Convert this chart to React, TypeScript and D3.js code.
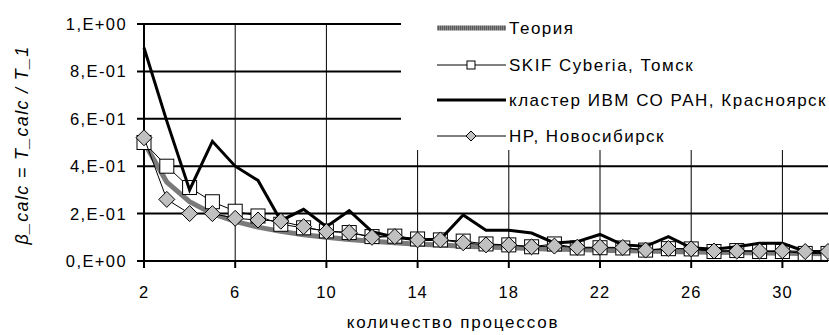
import React from 'react';
import * as d3 from 'd3';

// number of processes 2..32
const procs = [2, 3, 4, 5, 6, 7, 8, 9, 10, 11, 12, 13, 14, 15, 16, 17, 18, 19, 20, 21, 22, 23, 24, 25, 26, 27, 28, 29, 30, 31, 32];

const theory = [0.5, 0.333, 0.25, 0.2, 0.167, 0.143, 0.125, 0.111, 0.1, 0.091, 0.083, 0.077, 0.071, 0.067, 0.0625, 0.059,
  0.056, 0.053, 0.05, 0.048, 0.045, 0.043, 0.042, 0.04, 0.038, 0.037, 0.036, 0.034, 0.033, 0.032, 0.031];

const skif = [0.5, 0.4, 0.31, 0.25, 0.21, 0.19, 0.155, 0.14, 0.127, 0.12, 0.103, 0.105, 0.093, 0.089, 0.084, 0.072,
  0.068, 0.06, 0.072, 0.055, 0.056, 0.055, 0.046, 0.052, 0.051, 0.04, 0.044, 0.04, 0.04, 0.032, 0.032];

const cluster = [0.9, 0.59, 0.3, 0.505, 0.4, 0.34, 0.17, 0.218, 0.145, 0.212, 0.124, 0.1, 0.09, 0.092, 0.194, 0.13,
  0.13, 0.118, 0.076, 0.082, 0.112, 0.068, 0.062, 0.103, 0.056, 0.05, 0.06, 0.075, 0.075, 0.04, 0.04];

const hp = [0.52, 0.26, 0.2, 0.2, 0.18, 0.173, 0.168, 0.145, 0.124, 0.12, 0.1, 0.103, 0.089, 0.089, 0.077, 0.068,
  0.068, 0.06, 0.063, 0.058, 0.058, 0.057, 0.046, 0.053, 0.051, 0.042, 0.042, 0.042, 0.043, 0.04, 0.04];

const xTicks = [2, 6, 10, 14, 18, 22, 26, 30];
const yTicks = [0, 0.2, 0.4, 0.6, 0.8, 1.0];
const yTickLabels = ['0,E+00', '2,E-01', '4,E-01', '6,E-01', '8,E-01', '1,E+00'];

const legendNames = ['Теория', 'SKIF Cyberia, Томск', 'кластер ИВМ СО РАН, Красноярск', 'HP, Новосибирск'];

const font = 'Arial, "Liberation Sans", sans-serif';

const App = () => {
  const left = 144, right = 828, top = 24, bottom = 261;
  const x = d3.scaleLinear().domain([2, 32]).range([left, right]);
  const y = d3.scaleLinear().domain([0, 1]).range([bottom, top]);

  const line = d3.line<number>()
    .x((d, i) => x(procs[i]))
    .y(d => y(d));

  const sq = 7;
  const dm = 8;
  const diamond = (cx: number, cy: number, r: number) =>
    `M${cx},${cy - r}L${cx + r},${cy}L${cx},${cy + r}L${cx - r},${cy}Z`;

  const legY = [28, 65, 100, 136];
  const lx0 = 437, lx1 = 506, lmid = 471;

  return (
    <svg width={829} height={335} style={{ position: 'absolute', left: 0, top: 0, background: '#fff' }}
      fontFamily={font}>
      <defs>
        <pattern id="hatch" width={2} height={6} patternUnits="userSpaceOnUse">
          <rect width={2} height={6} fill="#8a8a8a" />
          <rect width={1} height={6} fill="#5a5a5a" />
        </pattern>
      </defs>
      {/* horizontal gridlines */}
      {yTicks.map(t => (
        <line key={'h' + t} x1={left - 7} x2={right} y1={y(t)} y2={y(t)} stroke="#000" strokeWidth={2} />
      ))}
      {/* vertical gridlines */}
      {xTicks.filter(t => t !== 2).map(t => (
        <line key={'v' + t} x1={x(t)} x2={x(t)} y1={top} y2={bottom} stroke="#000" strokeWidth={1} />
      ))}
      {/* axes */}
      <line x1={left} x2={left} y1={top} y2={bottom + 7} stroke="#000" strokeWidth={2} />
      {xTicks.map(t => (
        <line key={'xt' + t} x1={x(t)} x2={x(t)} y1={bottom} y2={bottom + 7} stroke="#000" strokeWidth={2} />
      ))}
      {yTicks.map((t, i) => (
        <text key={'yl' + t} x={127} y={y(t) + 6} textAnchor="end" fontSize={16.5} letterSpacing={1.4}>{yTickLabels[i]}</text>
      ))}
      {xTicks.map(t => (
        <text key={'xl' + t} x={x(t)} y={298} textAnchor="middle" fontSize={16.5} letterSpacing={1}>{t}</text>
      ))}
      <text x={453} y={328} textAnchor="middle" fontSize={17} letterSpacing={1.8}>количество процессов</text>
      <text transform="translate(28,145) rotate(-90)" textAnchor="middle" fontSize={18} fontStyle="italic" letterSpacing={1.3}>
        β_calc = T_calc / T_1
      </text>

      {/* legend background */}
      <rect x={401} y={10} width={428} height={140} fill="#fff" />

      {/* series */}
      <path d={line(theory) || ''} fill="none" stroke="#7a7a7a" strokeWidth={5} />
      <path d={line(skif) || ''} fill="none" stroke="#000" strokeWidth={1} />
      {skif.map((v, i) => (
        <rect key={'s' + i} x={x(procs[i]) - sq} y={y(v) - sq} width={sq * 2} height={sq * 2}
          fill="#fff" stroke="#000" strokeWidth={1} />
      ))}
      <path d={line(cluster) || ''} fill="none" stroke="#000" strokeWidth={3} strokeLinejoin="miter" />
      <path d={line(hp) || ''} fill="none" stroke="#000" strokeWidth={1} />
      {hp.map((v, i) => (
        <path key={'d' + i} d={diamond(x(procs[i]), y(v), dm)} fill="#c0c0c0" stroke="#000" strokeWidth={1} />
      ))}

      {/* legend */}
      <rect x={lx0} y={legY[0] - 2.5} width={lx1 - lx0} height={5} fill="url(#hatch)" />
      <line x1={lx0} x2={lx1} y1={legY[1]} y2={legY[1]} stroke="#000" strokeWidth={1} />
      <rect x={lmid - 4} y={legY[1] - 4} width={8} height={8} fill="#fff" stroke="#000" strokeWidth={1} />
      <line x1={lx0} x2={lx1} y1={legY[2]} y2={legY[2]} stroke="#000" strokeWidth={3} />
      <line x1={lx0} x2={lx1} y1={legY[3]} y2={legY[3]} stroke="#000" strokeWidth={1} />
      <path d={diamond(lmid, legY[3], 5)} fill="#c0c0c0" stroke="#000" strokeWidth={1} />
      {legendNames.map((n, i) => (
        <text key={'ln' + i} x={509} y={legY[i] + 6} fontSize={17} letterSpacing={1.5}>{n}</text>
      ))}
    </svg>
  );
};

export default App;
